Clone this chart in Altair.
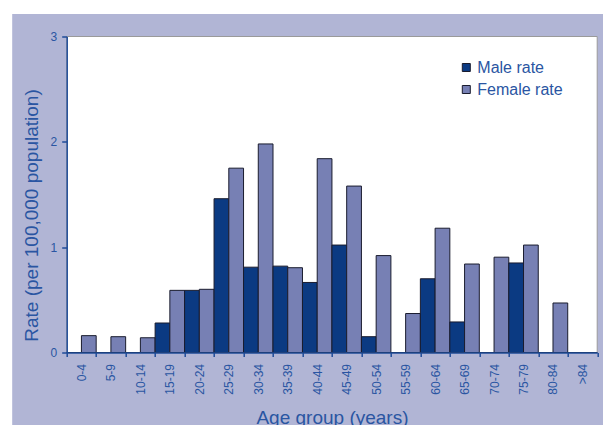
import altair as alt
import pandas as pd

categories = ["0-4", "5-9", "10-14", "15-19", "20-24", "25-29", "30-34", "35-39",
              "40-44", "45-49", "50-54", "55-59", "60-64", "65-69", "70-74", "75-79",
              "80-84", ">84"]
male_rate = [0, 0, 0, 0.28, 0.59, 1.46, 0.81, 0.82, 0.665, 1.02, 0.15, 0, 0.70, 0.29, 0, 0.85, 0, 0]
female_rate = [0.16, 0.15, 0.14, 0.59, 0.60, 1.75, 1.98, 0.805, 1.84, 1.58, 0.92, 0.37, 1.18, 0.84, 0.905, 1.02, 0.47, 0]
series = ["Male rate", "Female rate"]
colors = ["#0b3a82", "#7780b4"]

rows = []
for i, c in enumerate(categories):
    rows.append({"age": c, "sex": series[0], "rate": male_rate[i]})
    rows.append({"age": c, "sex": series[1], "rate": female_rate[i]})
df = pd.DataFrame(rows)

W, H = 530.5, 316
LAV = "#b1b5d5"
BLUE = "#1f4c99"
TXT = "#2a55a2"
FONT = "Liberation Sans"

one = alt.Data(values=[{}])

bg = alt.Chart(one).mark_rect(color=LAV).encode(
    x=alt.value(-54.5), x2=alt.value(W + 40),
    y=alt.value(-22.5), y2=alt.value(H + 100),
)
panel = alt.Chart(one).mark_rect(fill="white", stroke="#9a9a9a", strokeWidth=1).encode(
    x=alt.value(0), x2=alt.value(W),
    y=alt.value(0), y2=alt.value(H),
)

bars = alt.Chart(df).mark_bar(stroke="#1a1c2e", strokeWidth=1).encode(
    x=alt.X("age:N", sort=categories,
            scale=alt.Scale(paddingInner=0, paddingOuter=0),
            axis=alt.Axis(title="Age group (years)", labelAngle=-90, labelFontSize=12,
                          labelColor=TXT, labelFont=FONT, labelPadding=7,
                          tickSize=4, tickColor=BLUE, tickWidth=1.5, tickBand="extent",
                          domainColor=BLUE, domainWidth=1.5,
                          titleFont=FONT, titleFontSize=19, titleFontWeight="normal",
                          titleColor=TXT, titleBaseline="alphabetic", titleY=71,
                          zindex=1)),
    xOffset=alt.XOffset("sex:N", sort=series, scale=alt.Scale(paddingInner=0, paddingOuter=0)),
    y=alt.Y("rate:Q", scale=alt.Scale(domain=[0, 3], nice=False),
            axis=alt.Axis(title="Rate (per 100,000 population)", values=[0, 1, 2, 3],
                          format="d", grid=False, labelFontSize=12, labelColor=TXT,
                          labelFont=FONT, labelPadding=5, tickSize=5, tickColor=BLUE,
                          tickWidth=1.5, domainColor=BLUE, domainWidth=1.5,
                          titleFont=FONT, titleFontSize=19, titleFontWeight="normal",
                          titleColor=TXT, titleAngle=270, titleBaseline="alphabetic",
                          titleAlign="center", titleX=-29.2, titleY=178.5, zindex=1)),
    color=alt.Color("sex:N", sort=series,
                    scale=alt.Scale(domain=series, range=colors),
                    legend=alt.Legend(title=None, orient="none", legendX=391.6, legendY=23,
                                      labelFont=FONT, labelFontSize=16, labelColor=TXT,
                                      symbolType="square", symbolSize=64,
                                      symbolStrokeColor="#1a1c2e", symbolStrokeWidth=1,
                                      labelOffset=3, rowPadding=6, padding=0)),
)

chart = alt.layer(bg, panel, bars).properties(
    width=W, height=H,
    background="white",
    padding={"left": 58.7, "top": 28.5, "right": 5.8, "bottom": 80},
    autosize=alt.AutoSizeParams(type="none"),
).configure_view(stroke="transparent")

chart.save("out.html", embed_options={"renderer": "svg", "actions": False})
